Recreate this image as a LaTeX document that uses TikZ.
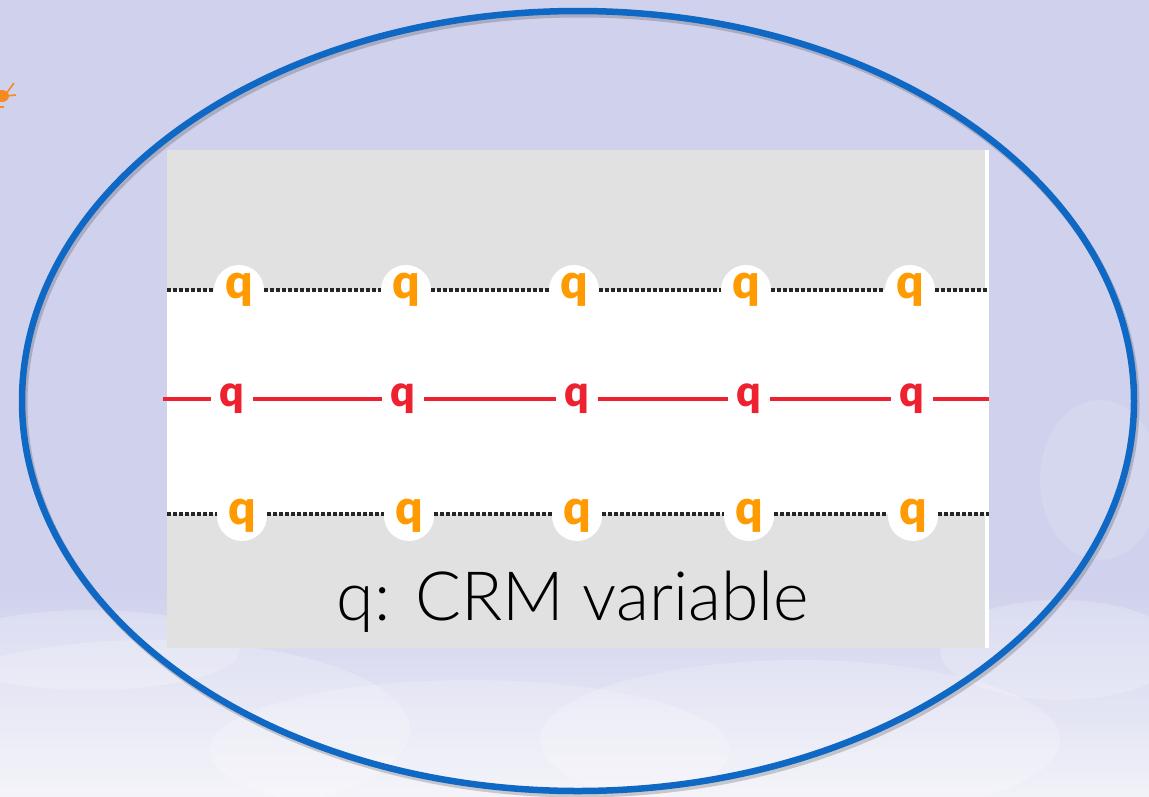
\documentclass[tikz,border=0pt]{standalone}
\usepackage{fontspec}
\IfFontExistsTF{Lato Light}{\newfontfamily\capfont{Lato Light}}{\newfontfamily\capfont{Lato}}
\IfFontExistsTF{Lato Black}{\newfontfamily\qfont{Lato Black}}{\newfontfamily\qfont[UprightFont=*-Bold]{Lato}}
\definecolor{bgtop}{HTML}{D0D2ED}
\definecolor{bgbot}{HTML}{F1F1F8}
\definecolor{ringblue}{HTML}{0F68C4}
\definecolor{panelgray}{HTML}{E1E1E1}
\definecolor{qorange}{HTML}{FF9A00}
\definecolor{qred}{HTML}{EE2130}
\definecolor{sparkle}{HTML}{F58A1F}
\tikzset{
  oq/.style={circle, fill=white, minimum size=50pt, inner sep=0pt,
    text=qorange, font=\qfont\fontsize{48}{48}\selectfont},
  rq/.style={inner xsep=8pt, inner ysep=0pt, text=qred,
    font=\qfont\fontsize{43}{43}\selectfont},
  dotline/.style={line width=3.5pt, dash pattern=on 4pt off 2pt, black!85},
  redline/.style={line width=3.5pt, qred},
  cloud/.style={fill=white, opacity=0.2},
}
\begin{document}
\begin{tikzpicture}[x=1pt,y=-1pt]
\useasboundingbox (0,0) rectangle (1149,796);
% background
\fill[bgtop] (0,0) rectangle (1149,796);
\shade[top color=bgtop, bottom color=bgbot] (0,590) rectangle (1149,796);
\fill[cloud] (150,730) ellipse [x radius=260, y radius=90];
\fill[cloud] (470,750) ellipse [x radius=260, y radius=70];
\fill[cloud] (800,740) ellipse [x radius=260, y radius=80];
\fill[cloud] (90,650) ellipse [x radius=150, y radius=40];
\fill[cloud, opacity=0.12] (1100,480) ellipse [x radius=60, y radius=80];
\fill[cloud] (1060,650) ellipse [x radius=120, y radius=50];
% sparkle at top left
\fill[sparkle] (2,96) ellipse [x radius=7, y radius=6];
\draw[sparkle, line width=1.6pt] (6,94) -- (14,83);
\draw[sparkle, line width=1.6pt] (6,96) -- (16,95);
\draw[sparkle, line width=1.2pt] (0,107) -- (4,107);
% ring with soft shadow
\draw[black, opacity=0.18, line width=7pt] (580,404) ellipse [x radius=556, y radius=390];
\draw[ringblue, line width=6.5pt] (578,401) ellipse [x radius=556, y radius=390];
% panel
\fill[panelgray] (167,150) rectangle (985,648);
\fill[white] (167,290) rectangle (985,514);
\fill[white] (985,150) rectangle (989,648);
% top row
\coordinate (tl) at (167,290);
\coordinate (tr) at (989,290);
\node[oq] (t1) at (239,290) {q};
\node[oq] (t2) at (406,290) {q};
\node[oq] (t3) at (574,290) {q};
\node[oq] (t4) at (746,290) {q};
\node[oq] (t5) at (910,290) {q};
\draw[dotline] (tl) -- (t1) (t1) -- (t2) (t2) -- (t3) (t3) -- (t4) (t4) -- (t5) (t5) -- (tr);
% bottom row
\coordinate (bl) at (167,514);
\coordinate (br) at (989,514);
\node[oq] (b1) at (242,516) {q};
\node[oq] (b2) at (409,516) {q};
\node[oq] (b3) at (577,516) {q};
\node[oq] (b4) at (749,516) {q};
\node[oq] (b5) at (913,516) {q};
\draw[dotline] (bl) -- (b1.west |- bl) (b1.east |- bl) -- (b2.west |- bl) (b2.east |- bl) -- (b3.west |- bl)
  (b3.east |- bl) -- (b4.west |- bl) (b4.east |- bl) -- (b5.west |- bl) (b5.east |- bl) -- (br);
% middle red row
\coordinate (rl) at (163,399);
\coordinate (rr) at (989,399);
\node[rq] (r1) at (232,399) {q};
\node[rq] (r2) at (403,399) {q};
\node[rq] (r3) at (577,399) {q};
\node[rq] (r4) at (749,399) {q};
\node[rq] (r5) at (912,399) {q};
\draw[redline] (rl) -- (r1.west |- rl) (r1.east |- rl) -- (r2.west |- rl) (r2.east |- rl) -- (r3.west |- rl)
  (r3.east |- rl) -- (r4.west |- rl) (r4.east |- rl) -- (r5.west |- rl) (r5.east |- rl) -- (rr);
% caption
\node[anchor=base, font=\capfont\fontsize{68}{68}\selectfont, text=black] (cap) at (573,620) {q: CRM variable};
\end{tikzpicture}
\end{document}
